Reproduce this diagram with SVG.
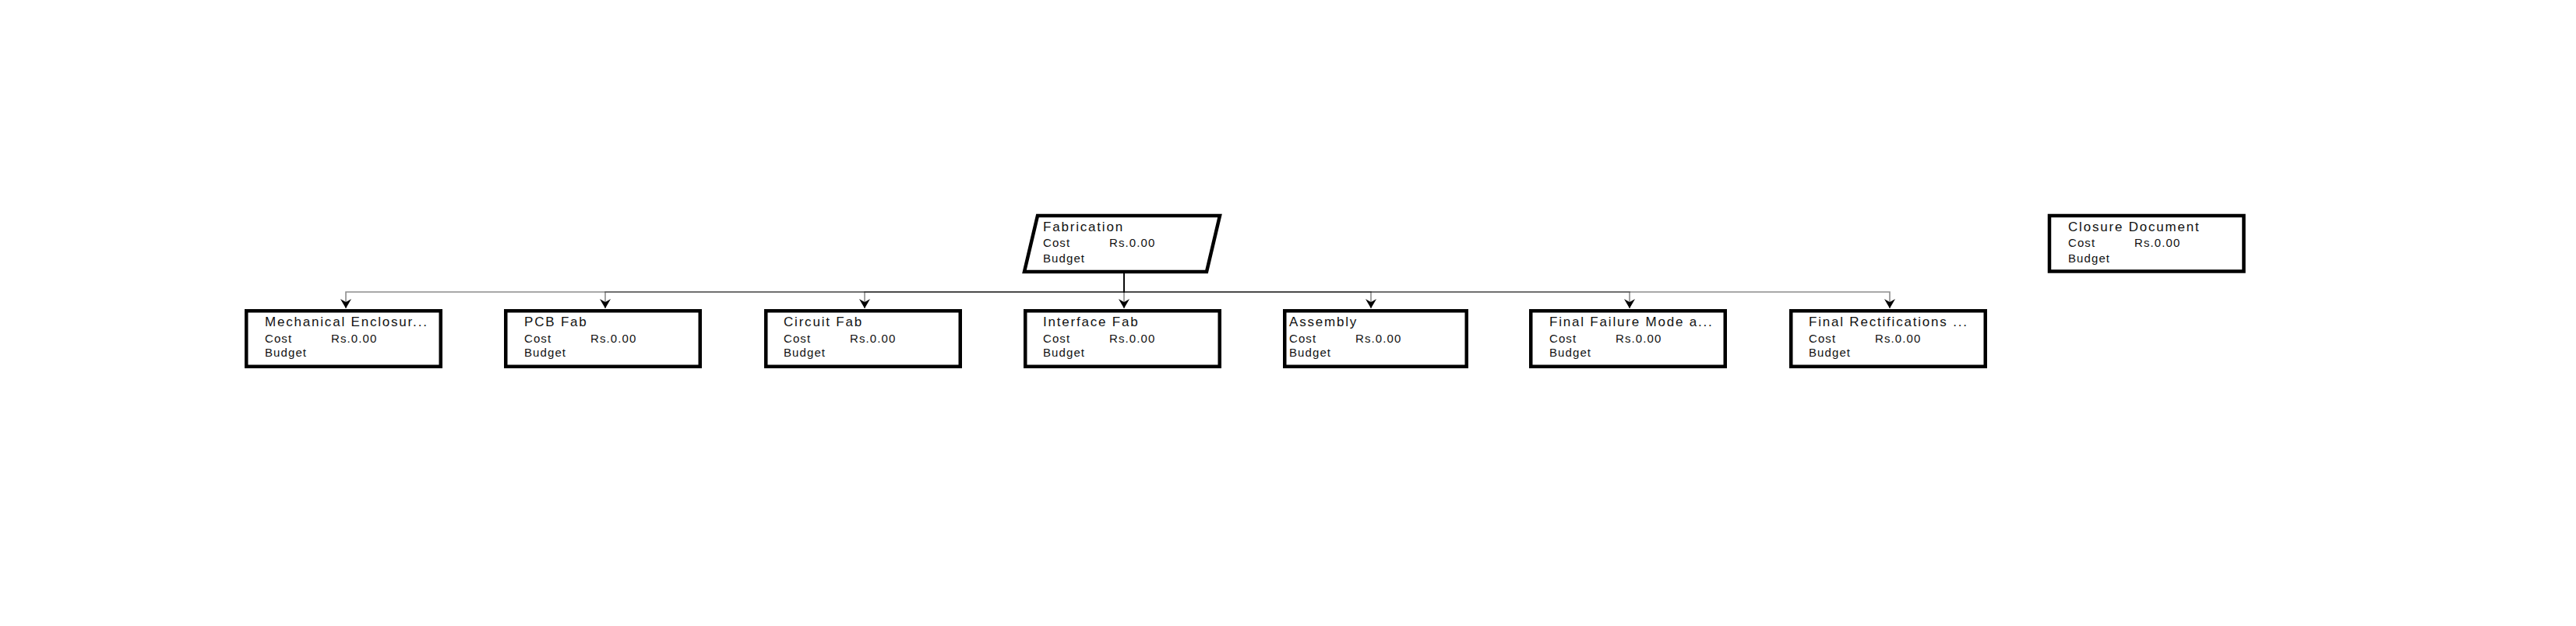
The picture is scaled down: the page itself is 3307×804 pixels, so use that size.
<svg xmlns="http://www.w3.org/2000/svg" width="3307" height="804" viewBox="0 0 3307 804">
<style>
.box{fill:#fff;stroke:#000;stroke-width:4.5}
.t{font-family:"Liberation Sans",Arial,sans-serif;font-size:17px;letter-spacing:1.8px;fill:#111}
.s{font-family:"Liberation Sans",Arial,sans-serif;font-size:15px;letter-spacing:1.1px;fill:#111}
.c{fill:none;stroke:#000;stroke-opacity:0.45;stroke-width:1.6}
</style>
<defs>
<marker id="arr" markerUnits="userSpaceOnUse" markerWidth="14" markerHeight="16" refX="12" refY="7" orient="auto" viewBox="0 0 14 14">
<path d="M0,0 L12,7 L0,14 L4,7 z" fill="#000"/>
</marker>
</defs>
<rect width="3307" height="804" fill="#fff"/>
<g id="connectors">
<path class="c" d="M1443,351 V375 H444 V396" marker-end="url(#arr)"/>
<path class="c" d="M1443,351 V375 H777 V396" marker-end="url(#arr)"/>
<path class="c" d="M1443,351 V375 H1110 V396" marker-end="url(#arr)"/>
<path class="c" d="M1443,351 V396" marker-end="url(#arr)"/>
<path class="c" d="M1443,351 V375 H1760 V396" marker-end="url(#arr)"/>
<path class="c" d="M1443,351 V375 H2092 V396" marker-end="url(#arr)"/>
<path class="c" d="M1443,351 V375 H2426 V396" marker-end="url(#arr)"/>
</g>
<g id="fabrication">
<polygon class="box" points="1332,277 1566,277 1549,349 1315,349"/>
<text class="t" x="1339" y="297">Fabrication</text>
<text class="s" x="1339" y="317">Cost</text><text class="s" x="1424" y="317">Rs.0.00</text>
<text class="s" x="1339" y="337">Budget</text>
</g>
<g id="closure">
<rect class="box" x="2631" y="277" width="249.5" height="71.5"/>
<text class="t" x="2655" y="297">Closure Document</text>
<text class="s" x="2655" y="317">Cost</text><text class="s" x="2740" y="317">Rs.0.00</text>
<text class="s" x="2655" y="337">Budget</text>
</g>
<g id="mechanical">
<rect class="box" x="316.25" y="399.25" width="249.5" height="71.5"/>
<text class="t" x="340" y="419">Mechanical Enclosur...</text>
<text class="s" x="340" y="440">Cost</text><text class="s" x="425" y="440">Rs.0.00</text>
<text class="s" x="340" y="458">Budget</text>
</g>
<g id="pcb">
<rect class="box" x="649.25" y="399.25" width="249.5" height="71.5"/>
<text class="t" x="673" y="419">PCB Fab</text>
<text class="s" x="673" y="440">Cost</text><text class="s" x="758" y="440">Rs.0.00</text>
<text class="s" x="673" y="458">Budget</text>
</g>
<g id="circuit">
<rect class="box" x="983.25" y="399.25" width="249.5" height="71.5"/>
<text class="t" x="1006" y="419">Circuit Fab</text>
<text class="s" x="1006" y="440">Cost</text><text class="s" x="1091" y="440">Rs.0.00</text>
<text class="s" x="1006" y="458">Budget</text>
</g>
<g id="interface">
<rect class="box" x="1316.25" y="399.25" width="249.5" height="71.5"/>
<text class="t" x="1339" y="419">Interface Fab</text>
<text class="s" x="1339" y="440">Cost</text><text class="s" x="1424" y="440">Rs.0.00</text>
<text class="s" x="1339" y="458">Budget</text>
</g>
<g id="assembly">
<rect class="box" x="1649.25" y="399.25" width="233.5" height="71.5"/>
<text class="t" x="1655" y="419">Assembly</text>
<text class="s" x="1655" y="440">Cost</text><text class="s" x="1740" y="440">Rs.0.00</text>
<text class="s" x="1655" y="458">Budget</text>
</g>
<g id="failure">
<rect class="box" x="1965.25" y="399.25" width="249.5" height="71.5"/>
<text class="t" x="1989" y="419">Final Failure Mode a...</text>
<text class="s" x="1989" y="440">Cost</text><text class="s" x="2074" y="440">Rs.0.00</text>
<text class="s" x="1989" y="458">Budget</text>
</g>
<g id="rectifications">
<rect class="box" x="2299.25" y="399.25" width="249.5" height="71.5"/>
<text class="t" x="2322" y="419">Final Rectifications ...</text>
<text class="s" x="2322" y="440">Cost</text><text class="s" x="2407" y="440">Rs.0.00</text>
<text class="s" x="2322" y="458">Budget</text>
</g>
</svg>
